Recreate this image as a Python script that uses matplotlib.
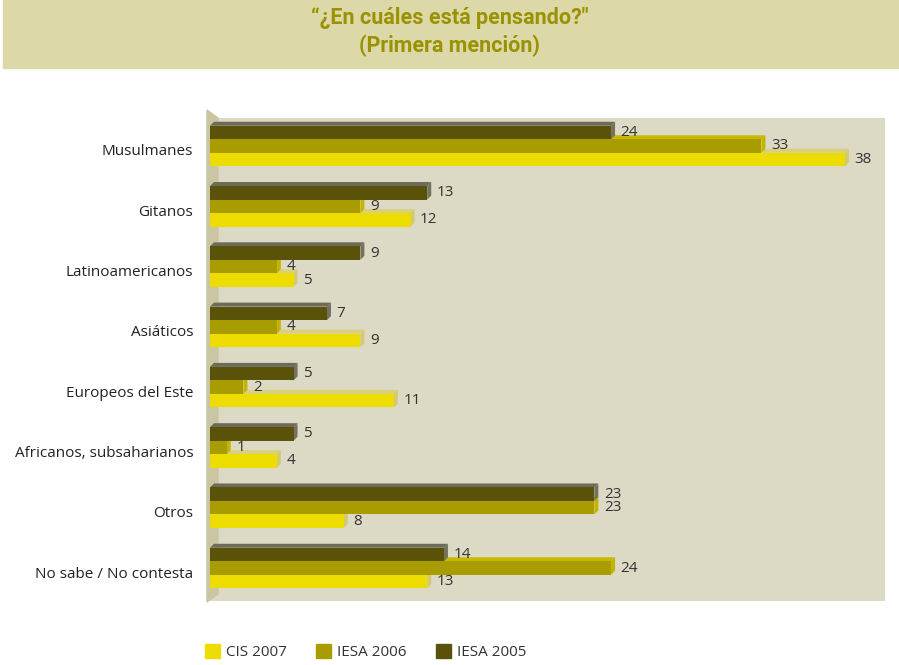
import matplotlib.pyplot as plt
from matplotlib.patches import Polygon, Rectangle, Patch
import numpy as np

# datos
categorias = ["Musulmanes", "Gitanos", "Latinoamericanos", "Asiáticos",
              "Europeos del Este", "Africanos, subsaharianos", "Otros",
              "No sabe / No contesta"]
cis_2007 = [38, 12, 5, 9, 11, 4, 8, 13]
iesa_2006 = [33, 9, 4, 4, 2, 1, 23, 24]
iesa_2005 = [24, 13, 9, 7, 5, 5, 23, 14]
series = ["CIS 2007", "IESA 2006", "IESA 2005"]

W, H = 899, 665
fig = plt.figure(figsize=(W / 100, H / 100), dpi=100)
plt.rcParams['font.family'] = ['Open Sans', 'DejaVu Sans']

def fx(px):
    return px / W

def fy(py):
    return 1 - py / H

# banda del titulo
fig.patches.append(Rectangle((fx(3), fy(68)), fx(896), 68 / H,
                             transform=fig.transFigure, color="#ddd8a8", zorder=0))
for txt, yy in [("\u201c¿En cuáles está pensando?\"", 18), ("(Primera mención)", 46)]:
    fig.text(0.5, fy(yy), txt, ha="center", va="center",
             fontsize=15.5, fontweight="bold", color="#9a9200",
             family=['Roboto', 'Open Sans', 'DejaVu Sans'])

# ejes
x0, x1, y0, y1 = 210, 885, 118, 601
ax = fig.add_axes([fx(x0), fy(y1), (x1 - x0) / W, (y1 - y0) / H])
ax.set_facecolor("#dcd9c4")
px_u = 635 / 38
ax.set_xlim(0, (x1 - x0) / px_u)
spacing = 60.3
ax.set_ylim(7 + (y1 - 568) / spacing, -(146 - y0) / spacing)
for s in ax.spines.values():
    s.set_visible(False)
ax.set_xticks([])
ax.set_yticks(np.arange(len(categorias)) + 4 / spacing)
ax.set_yticklabels(categorias, fontsize=11, color="#222222")
ax.tick_params(axis="y", length=0, pad=12)

# pared izquierda
wall = Polygon([(fx(207), fy(110)), (fx(218), fy(118)), (fx(218), fy(594)), (fx(207), fy(602))],
               closed=True, transform=fig.transFigure, color="#cac6a3", zorder=1, clip_on=False)
ax.add_patch(wall)

bh = 13.5 / spacing
dx = 4 / px_u
dy = 4 / spacing
y = np.arange(len(categorias))
estilos = [
    (cis_2007, bh, "#ecdc00", "#d9d07c", "#d3ca70"),
    (iesa_2006, 0, "#a99c00", "#c8b900", "#c4b400"),
    (iesa_2005, -bh, "#5a5208", "#6d6b57", "#74725e"),
]
for vals, off, front, top, side in estilos:
    for yi, v in zip(y, vals):
        yc = yi + off
        t = yc - bh / 2
        b = yc + bh / 2
        ax.add_patch(Polygon([(0, t), (v, t), (v + dx, t - dy), (dx, t - dy)],
                             closed=True, color=top, zorder=3, lw=0))
        ax.add_patch(Polygon([(v, t), (v + dx, t - dy), (v + dx, b - dy), (v, b)],
                             closed=True, color=side, zorder=3, lw=0))
        ax.add_patch(Rectangle((0, t), v, bh, color=front, zorder=4, lw=0))
        ax.annotate(str(v), (v + dx, yc), xytext=(4, 0), textcoords="offset points",
                    ha="left", va="center", fontsize=11, color="#333333", zorder=5)

# leyenda
handles = [Patch(color=c) for c in ["#ecdc00", "#a99c00", "#5a5208"]]
fig.legend(handles, series, loc="center left", bbox_to_anchor=(fx(191), fy(652)),
           ncol=3, frameon=False, fontsize=11, handlelength=1.0, handleheight=1.0,
           handletextpad=0.4, columnspacing=1.9, labelcolor="#333333")

plt.savefig("out.png", dpi=100)
